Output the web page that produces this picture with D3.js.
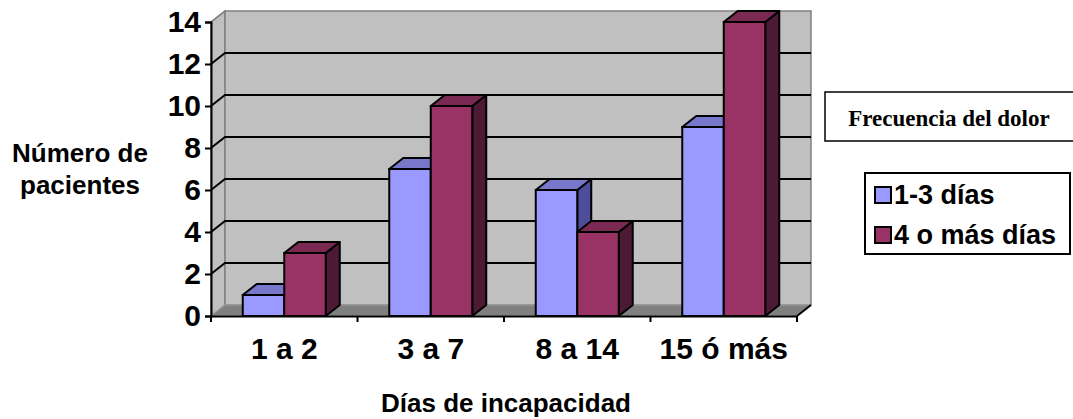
<!DOCTYPE html>
<html>
<head>
<meta charset="utf-8">
<script src="https://cdn.jsdelivr.net/npm/d3@7"></script>
<style>
  html, body { margin: 0; padding: 0; background: #ffffff; }
  svg { display: block; }
  text { font-family: "Liberation Sans", Arial, sans-serif; font-weight: bold; fill: #000; }
</style>
</head>
<body>
<svg id="chart" width="1073" height="419"></svg>
<script>
// ---- data ----
const categories = ["1 a 2", "3 a 7", "8 a 14", "15 ó más"];
const seriesNames = ["1-3 días", "4 o más días"];
const serie1 = [1, 7, 6, 9];     // 1-3 días
const serie2 = [3, 10, 4, 14];   // 4 o más días
const yTicks = [0, 2, 4, 6, 8, 10, 12, 14];
const yTitle = ["Número de", "pacientes"];
const xTitle = "Días de incapacidad";
const legendTitle = "Frecuencia del dolor";

const frontColors = ["#9999ff", "#993366"];
const topColors = ["#7777cc", "#7a2952"];
const sideColors = ["#4d4d99", "#4d1a35"];

const svg = d3.select("#chart");
const DX = 14, DY = -11;       // depth offset
const pLeft = 211, pRight = 797, pBottom = 316, pTop = 22;

const y = d3.scaleLinear().domain([0, 14]).range([pBottom, pTop]);
const x0 = d3.scaleBand().domain(categories).range([pLeft, pRight]).padding(0);
const bw = x0.bandwidth();
const groupW = 83;
const x1 = d3.scaleBand().domain(seriesNames).range([(bw - groupW) / 2, (bw + groupW) / 2]).padding(0);

const g = svg.append("g");

// side wall (left)
g.append("polygon")
  .attr("points", [[pLeft, y(0)], [pLeft, y(14)], [pLeft + DX, y(14) + DY], [pLeft + DX, y(0) + DY]].join(" "))
  .attr("fill", "#c0c0c0").attr("stroke", "#808080").attr("stroke-width", 1.5);
// back wall
g.append("rect")
  .attr("x", pLeft + DX).attr("y", y(14) + DY)
  .attr("width", pRight - pLeft).attr("height", y(0) - y(14))
  .attr("fill", "#c0c0c0").attr("stroke", "#808080").attr("stroke-width", 1.5);
// floor
g.append("polygon")
  .attr("points", [[pLeft, y(0)], [pRight, y(0)], [pRight + DX, y(0) + DY], [pLeft + DX, y(0) + DY]].join(" "))
  .attr("fill", "#808080").attr("stroke", "#a0a0a0").attr("stroke-width", 1);

// gridlines
const gridVals = yTicks.filter(v => v > 0 && v < 14);
gridVals.forEach(v => {
  g.append("polyline")
    .attr("points", [[pLeft, y(v)], [pLeft + DX, y(v) + DY], [pRight + DX, y(v) + DY]].join(" "))
    .attr("fill", "none").attr("stroke", "#000").attr("stroke-width", 2);
});
g.append("line")
  .attr("x1", pLeft).attr("y1", y(14)).attr("x2", pLeft + DX).attr("y2", y(14) + DY)
  .attr("stroke", "#808080").attr("stroke-width", 1.5);

// floor front-right edge
g.append("line")
  .attr("x1", pRight).attr("y1", y(0)).attr("x2", pRight + DX).attr("y2", y(0) + DY)
  .attr("stroke", "#000").attr("stroke-width", 2);

// bars
const seriesData = [serie1, serie2];
categories.forEach((c, i) => {
  seriesNames.forEach((s, k) => {
    const v = seriesData[k][i];
    const bx = x0(c) + x1(s);
    const w = x1.bandwidth();
    const yv = y(v), y0 = y(0);
    const bar = g.append("g");
    bar.append("polygon")
      .attr("points", [[bx + w, yv], [bx + w + DX, yv + DY], [bx + w + DX, y0 + DY], [bx + w, y0]].join(" "))
      .attr("fill", sideColors[k]).attr("stroke", "#000").attr("stroke-width", 2).attr("stroke-linejoin", "round");
    bar.append("polygon")
      .attr("points", [[bx, yv], [bx + DX, yv + DY], [bx + w + DX, yv + DY], [bx + w, yv]].join(" "))
      .attr("fill", topColors[k]).attr("stroke", "#000").attr("stroke-width", 2).attr("stroke-linejoin", "round");
    bar.append("rect")
      .attr("x", bx).attr("y", yv).attr("width", w).attr("height", y0 - yv)
      .attr("fill", frontColors[k]).attr("stroke", "#000").attr("stroke-width", 2);
  });
});

// y axis
const yAxis = d3.axisLeft(y).tickValues(yTicks).tickSize(6).tickPadding(4).tickFormat(d3.format("d"));
const ya = svg.append("g").attr("transform", `translate(${pLeft},0)`).call(yAxis);
ya.select(".domain").attr("stroke", "#000").attr("stroke-width", 2);
ya.selectAll(".tick line").attr("stroke", "#000").attr("stroke-width", 2);
ya.selectAll(".tick text").style("font-size", "30px").style("font-weight", "bold")
  .style("font-family", '"Liberation Sans", Arial, sans-serif').attr("fill", "#000");

// x axis
const xAxis = d3.axisBottom(x0).tickSize(0).tickPadding(22);
const xa = svg.append("g").attr("transform", `translate(0,${pBottom})`).call(xAxis);
xa.select(".domain").attr("stroke", "#000").attr("stroke-width", 2);
xa.selectAll(".tick text").style("font-size", "30px").style("font-weight", "bold")
  .style("font-family", '"Liberation Sans", Arial, sans-serif').attr("fill", "#000");
// category boundary ticks
const bounds = categories.map(c => x0(c)).concat([pRight]);
svg.append("g").selectAll("line").data(bounds).join("line")
  .attr("x1", d => d).attr("x2", d => d).attr("y1", pBottom).attr("y2", pBottom + 6)
  .attr("stroke", "#000").attr("stroke-width", 2);

// titles
svg.append("text").attr("x", 506).attr("y", 412).attr("text-anchor", "middle")
  .style("font-size", "26px").text(xTitle);
svg.append("text").attr("x", 80).attr("y", 162).attr("text-anchor", "middle")
  .style("font-size", "26px").text(yTitle[0]);
svg.append("text").attr("x", 80).attr("y", 194).attr("text-anchor", "middle")
  .style("font-size", "26px").text(yTitle[1]);

// legend title box
svg.append("rect").attr("x", 825).attr("y", 92).attr("width", 260).attr("height", 49)
  .attr("fill", "#fff").attr("stroke", "#000").attr("stroke-width", 1.5);
svg.append("text").attr("x", 949).attr("y", 126).attr("text-anchor", "middle")
  .style("font-family", '"Liberation Serif", "Times New Roman", serif')
  .style("font-size", "23px").text(legendTitle);

// legend
const lg = svg.append("g");
lg.append("rect").attr("x", 865).attr("y", 173).attr("width", 205).attr("height", 81)
  .attr("fill", "#fff").attr("stroke", "#000").attr("stroke-width", 2);
seriesNames.forEach((s, k) => {
  const cy = 195 + k * 40;
  lg.append("rect").attr("x", 875).attr("y", cy - 8).attr("width", 16).attr("height", 16)
    .attr("fill", frontColors[k]).attr("stroke", "#000").attr("stroke-width", 2);
  lg.append("text").attr("x", 894).attr("y", cy + 9).style("font-size", "27px").text(s);
});
</script>
</body>
</html>
